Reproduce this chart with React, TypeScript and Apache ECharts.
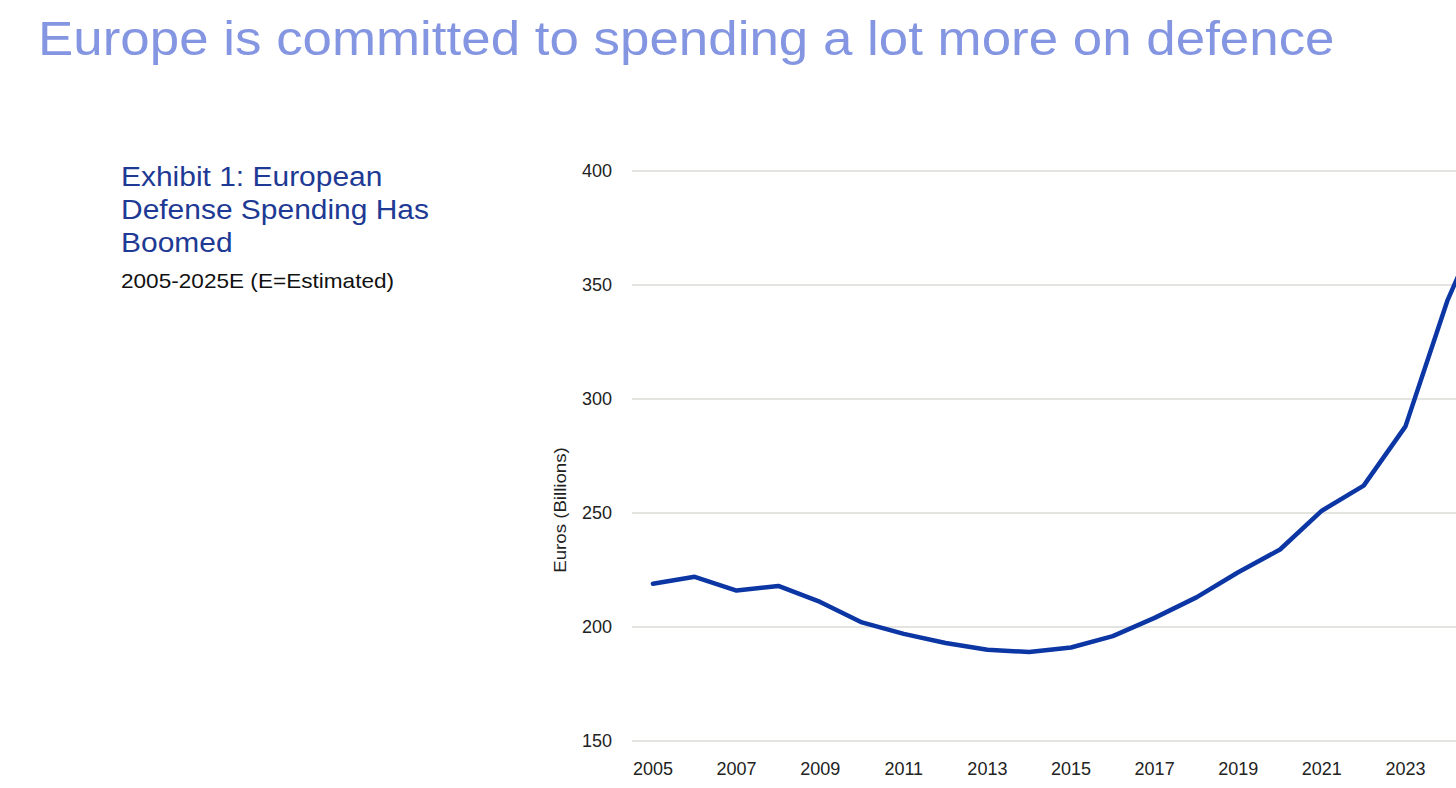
import React, { useEffect, useRef } from "react";
import * as echarts from "echarts";

const years = [
  "2005", "2006", "2007", "2008", "2009", "2010", "2011", "2012", "2013", "2014",
  "2015", "2016", "2017", "2018", "2019", "2020", "2021", "2022", "2023", "2024", "2025",
];
const spending = [
  219, 222, 216, 218, 211, 202, 197, 193, 190, 189,
  191, 196, 204, 213, 224, 234, 251, 262, 288, 343, 385,
];
const yTicks = { min: 150, max: 400, interval: 50 };
const pageTitle = "Europe is committed to spending a lot more on defence";
const exhibitTitle = ["Exhibit 1: European", "Defense Spending Has", "Boomed"];
const exhibitSubtitle = "2005-2025E (E=Estimated)";
const yAxisName = "Euros (Billions)";

const FONT = "'Liberation Sans', Arial, sans-serif";

export default function App() {
  const ref = useRef<HTMLDivElement>(null);
  useEffect(() => {
    if (!ref.current) return;
    const chart = echarts.init(ref.current, undefined, { renderer: "svg" });
    chart.setOption({
      animation: false,
      backgroundColor: "#ffffff",
      textStyle: { fontFamily: FONT },
      grid: { left: 632, top: 171, width: 878, bottom: 47, containLabel: false },
      xAxis: {
        type: "category",
        data: years,
        boundaryGap: true,
        axisLine: { show: false },
        axisTick: { show: false },
        axisLabel: {
          interval: 1,
          margin: 19,
          fontSize: 18,
          color: "#222",
          fontFamily: FONT,
          formatter: (v: string, i: number) => (i === years.length - 1 ? "" : v),
        },
      },
      yAxis: {
        type: "value",
        min: yTicks.min,
        max: yTicks.max,
        interval: yTicks.interval,
        axisLine: { show: false },
        axisTick: { show: false },
        axisLabel: { margin: 20, fontSize: 18, color: "#222", fontFamily: FONT },
        splitLine: { lineStyle: { color: "#e3e3df", width: 2 } },
      },
      series: [
        {
          type: "line",
          data: spending,
          symbol: "none",
          lineStyle: { color: "#0b36a3", width: 4.5, join: "round", cap: "round" },
        },
      ],
      graphic: [
        {
          type: "text",
          x: 38,
          y: 14,
          scaleX: 1.102,
          style: {
            text: pageTitle,
            fontSize: 48,
            fontFamily: FONT,
            fill: "#8495e2",
            verticalAlign: "top",
          },
        },
        {
          type: "text",
          x: 121,
          y: 160,
          scaleX: 1.07,
          style: {
            text: exhibitTitle.join("\n"),
            fontSize: 28,
            lineHeight: 33,
            fontFamily: FONT,
            fill: "#1e3a94",
            verticalAlign: "top",
          },
        },
        {
          type: "text",
          x: 121,
          y: 271,
          scaleX: 1.13,
          style: {
            text: exhibitSubtitle,
            fontSize: 20,
            fontFamily: FONT,
            fill: "#111",
            verticalAlign: "top",
          },
        },
        {
          type: "text",
          x: 560,
          y: 510,
          rotation: Math.PI / 2,
          scaleX: 1.1,
          style: {
            text: yAxisName,
            fontSize: 17,
            fontFamily: FONT,
            fill: "#222",
            align: "center",
            verticalAlign: "middle",
          },
        },
      ],
    });
    return () => chart.dispose();
  }, []);
  return (
    <div
      style={{
        position: "fixed",
        left: 0,
        top: 0,
        width: 1456,
        height: 788,
        overflow: "hidden",
        background: "#fff",
      }}
    >
      <div ref={ref} style={{ width: 1530, height: 788 }} />
    </div>
  );
}
